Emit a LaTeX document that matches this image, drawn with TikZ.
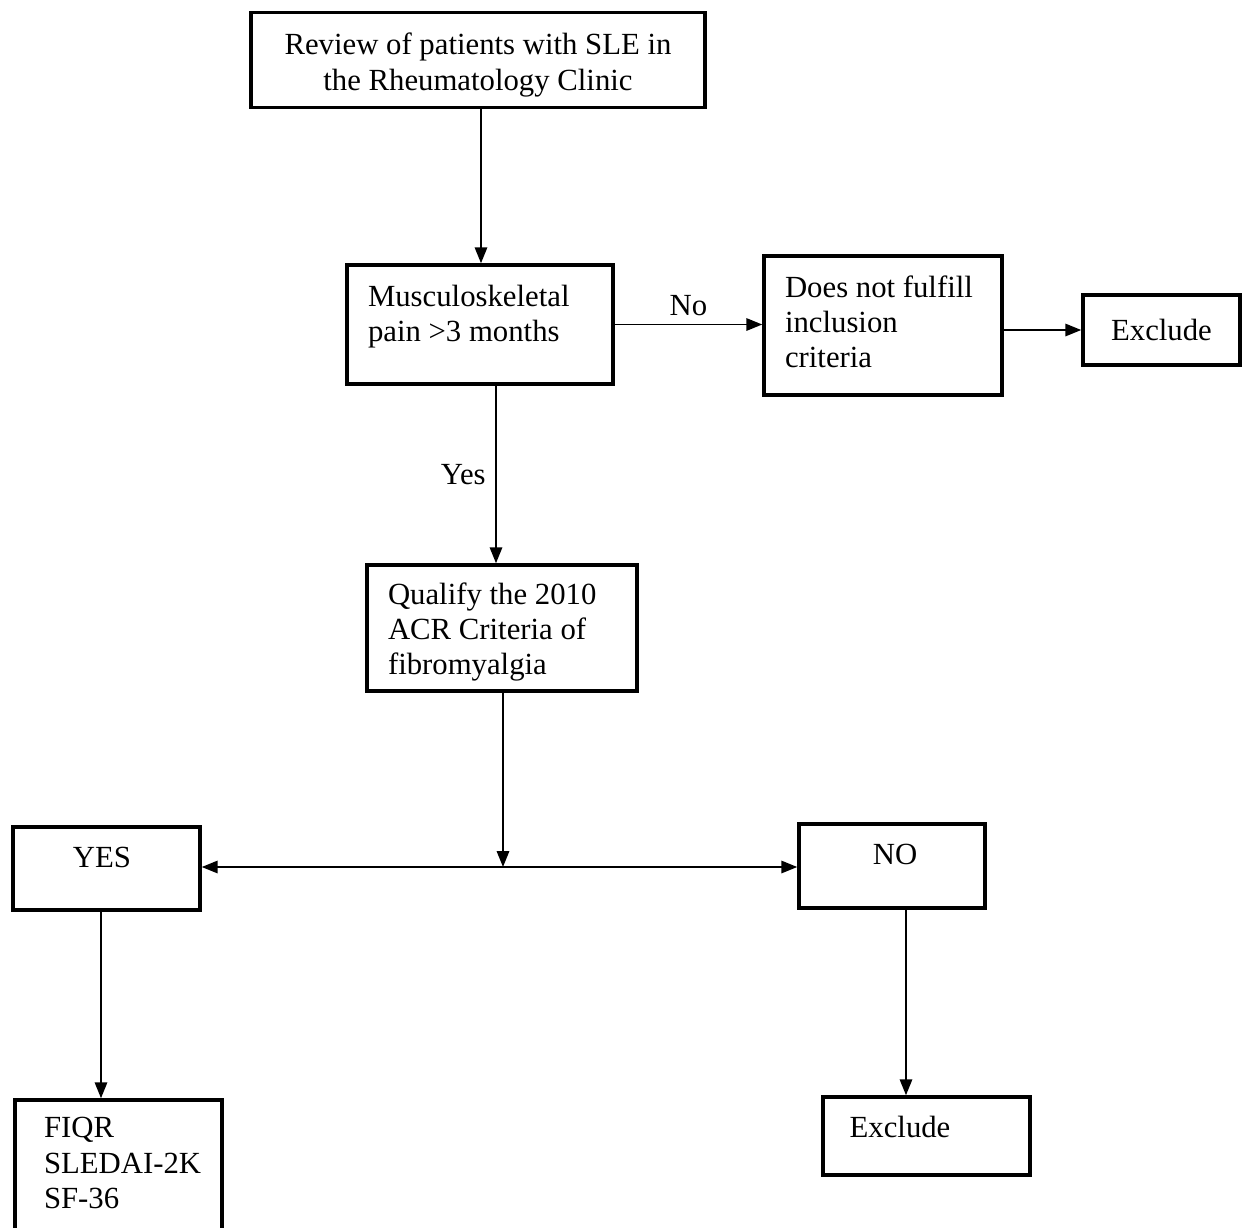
\documentclass[tikz,border=0pt]{standalone}
\usepackage{fontspec}
\setmainfont{Liberation Serif}
\usetikzlibrary{arrows.meta, positioning, calc}

\begin{document}
\begin{tikzpicture}[x=0.02cm, y=-0.02cm, font=\fontsize{17.5}{20}\selectfont,
    box/.style={draw, line width=2pt, inner sep=0pt},
    inbox/.style={align=flush left, inner sep=0pt},
    arr/.style={line width=1.1pt, -{Triangle[length=9pt, width=7pt]}}]
                \path[use as bounding box, clip] (0,0) rectangle (1245,1228);
                % Top box (review)
                \node[box, minimum width=9.08cm, minimum height=1.9cm,
                      label={[name=reviewText, align=center, yshift=-0.1cm]center:{Review of patients with SLE in\\the Rheumatology Clinic}}] (review) at (478,60) {};
                % Pain question and the No branch
                \node[box, minimum width=5.32cm, minimum height=2.38cm,
                      label={[name=painText, inbox, text width=4.48cm, yshift=0.16cm]center:{Musculoskeletal\\pain >3 months}}] (pain) at (480,324.5) {};
                \node[box, minimum width=4.76cm, minimum height=2.78cm,
                      label={[name=notfulfillText, inbox, text width=3.92cm, yshift=0.08cm]center:{Does not fulfill\\inclusion\\criteria}}] (notfulfill) at (883,325.5) {};
                \node[box, minimum width=3.14cm, minimum height=1.4cm] (excludeA) at (1161.5,330) {Exclude};
                % Fibromyalgia criteria
                \node[box, minimum width=5.4cm, minimum height=2.52cm,
                      label={[name=qualifyText, inbox, text width=4.56cm, yshift=-0.08cm]center:{Qualify the 2010\\ACR Criteria of\\fibromyalgia}}] (qualify) at (502,628) {};
                \coordinate (split) at (503,867);
                % YES / NO outcomes
                \node[box, minimum width=3.74cm, minimum height=1.66cm,
                      label={[name=yesText, xshift=-0.09cm, yshift=0.22cm]center:YES}] (yes) at (106.5,868.5) {};
                \node[box, minimum width=3.72cm, minimum height=1.68cm,
                      label={[name=noText, xshift=0.06cm, yshift=0.24cm]center:NO}] (no) at (892,866) {};
                \node[box, minimum width=4.14cm, minimum height=3cm,
                      label={[name=scoreText, inbox, xshift=0.21cm, yshift=0.24cm, text width=3.4cm]center:{FIQR\\SLEDAI-2K\\SF-36}}] (scores) at (118.5,1175) {};
                \node[box, minimum width=4.14cm, minimum height=1.56cm,
                      label={[name=excludeText, xshift=-0.53cm, yshift=0.18cm]center:Exclude}] (excludeB) at (926.5,1136) {};

                % Connectors
                \draw[arr] ([xshift=0.06cm]review.south) -- ([xshift=0.06cm]review.south |- pain.north);
                \draw[arr] (pain.east) -- (pain.east -| notfulfill.west) node[midway, above=1pt] {No};
                \draw[arr] (notfulfill.east |- excludeA) -- (excludeA.west);
                \draw[arr] ([xshift=-0.12cm]qualify.north |- pain.south) -- ([xshift=-0.12cm]qualify.north)
                    node[midway, left=2pt] {Yes};
                \draw[arr] (qualify.south -| split) -- (split);
                \draw[arr] (split) -- (split -| yes.east);
                \draw[arr] (split) -- (split -| no.west);
                \draw[arr] ([xshift=-0.11cm]yes.south) -- ([xshift=-0.11cm]yes.south |- scores.north);
                \draw[arr] ([xshift=0.28cm]no.south) -- ([xshift=0.28cm]no.south |- excludeB.north);
            \end{tikzpicture}
\end{document}
